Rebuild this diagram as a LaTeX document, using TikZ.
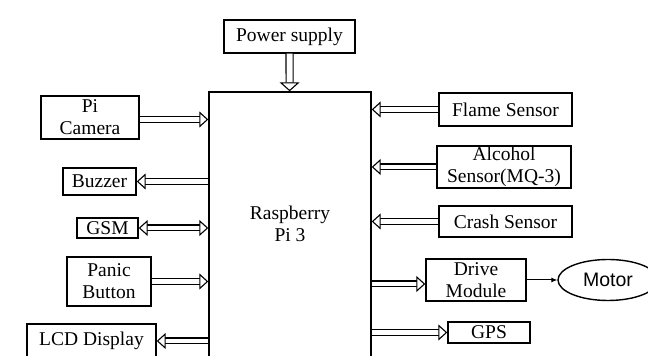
\documentclass[tikz,border=0pt]{standalone}
\usepackage{fontspec}
\setmainfont{Liberation Serif}
\newfontfamily\motorfont{Liberation Sans}
\usetikzlibrary{arrows.meta,positioning,shapes.geometric}

\begin{document}
\begin{tikzpicture}[x=0.5pt,y=-0.5pt,font=\fontsize{9.75}{11}\selectfont,
  box/.style={draw,line width=0.7pt,align=center,inner sep=0pt,fill=white},
  dbl/.style={double,double distance=2.4pt,line width=0.55pt,
    -{Triangle[length=4.5pt,width=8pt,fill=white,line width=0.55pt]}},
  dblboth/.style={dbl,{Triangle[length=4.5pt,width=8pt,fill=white,line width=0.55pt]}-{Triangle[length=4.5pt,width=8pt,fill=white,line width=0.55pt]}}]
  \useasboundingbox (0,0) rectangle (648,356);
  % raspberry pi in the middle
  \node[box,minimum width=81pt,minimum height=138pt,text depth=6pt] (pi) at (290,230) {Raspberry\\Pi 3};
  \node[box,minimum width=65.5pt,minimum height=16.5pt] (power) at (289.5,36.5) {Power supply};
  % left side
  \node[box,minimum width=49pt,minimum height=21.5pt] (cam) at (90,117.5) {Pi\\Camera};
  \node[box,minimum width=36.5pt,minimum height=13.5pt] (buzz) at (99.5,181.5) {Buzzer};
  \node[box,minimum width=30.5pt,minimum height=10pt] (gsm) at (107.5,228) {GSM};
  \node[box,minimum width=42pt,minimum height=24.5pt] (panic) at (109,281.5) {Panic\\Button};
  \node[box,minimum width=64.5pt,minimum height=17pt] (lcd) at (91.5,341) {LCD Display};
  % right side
  \node[box,minimum width=66.5pt,minimum height=16.5pt] (flame) at (505.5,109.5) {Flame Sensor};
  \node[box,minimum width=67pt,minimum height=21pt] (alc) at (504,167) {Alcohol\\Sensor(MQ-3)};
  \node[box,minimum width=66.5pt,minimum height=15.5pt] (crash) at (505.5,221.5) {Crash Sensor};
  \node[box,minimum width=50pt,minimum height=21pt] (drive) at (476,280) {Drive\\Module};
  \node[box,ellipse,minimum width=50pt,minimum height=20.5pt,font=\fontsize{9.75}{11}\motorfont] (motor) at (608,280) {Motor};
  \node[box,minimum width=41pt,minimum height=10.5pt] (gps) at (489,332.5) {GPS};
  % connections
  \draw[dbl,double distance=3pt,-{Triangle[length=4.5pt,width=10pt,fill=white,line width=0.55pt]}] (power) -- (pi);
  \draw[dbl] ([yshift=-1pt]cam.east) -- ([yshift=-1pt]cam.east -| pi.west);
  \draw[dbl] (pi.west |- buzz) -- (buzz);
  \draw[dblboth] (gsm) -- (gsm -| pi.west);
  \draw[dbl] (panic) -- (panic -| pi.west);
  \draw[dbl] (pi.west |- lcd) -- (lcd);
  \draw[dbl] (flame) -- (flame -| pi.east);
  \draw[dbl] (alc) -- (alc -| pi.east);
  \draw[dbl] (crash) -- (crash -| pi.east);
  \draw[dbl] ([yshift=-2pt]pi.east |- drive) -- ([yshift=-2pt]drive.west);
  \draw[dbl] (pi.east |- gps) -- (gps);
  \draw[line width=0.5pt,-{Latex[length=3pt,width=2.5pt]}] (drive) -- (motor);
\end{tikzpicture}
\end{document}
